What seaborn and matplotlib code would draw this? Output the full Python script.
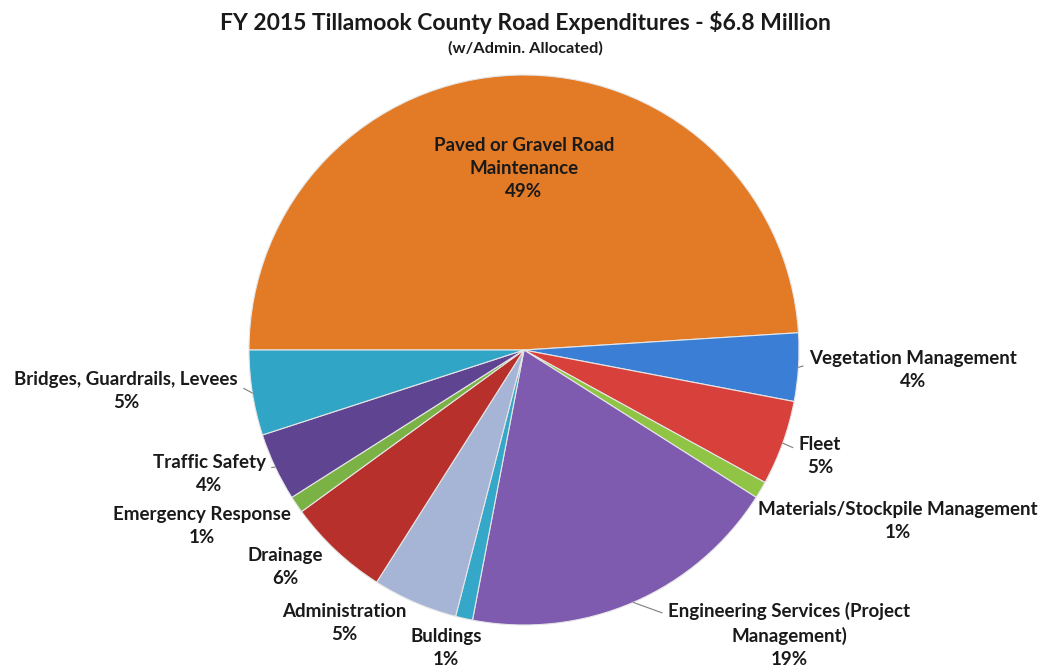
import numpy as np
import seaborn as sns
import matplotlib.pyplot as plt

# data
categorii = ['Paved or Gravel Road\nMaintenance', 'Vegetation Management', 'Fleet',
             'Materials/Stockpile Management', 'Engineering Services (Project\nManagement)',
             'Buldings', 'Administration', 'Drainage', 'Emergency Response',
             'Traffic Safety', 'Bridges, Guardrails, Levees']
procente = [49, 4, 5, 1, 19, 1, 5, 6, 1, 4, 5]
culori = ['#E27A26', '#3A7FD5', '#D8413B', '#8FC444', '#7F5BB0', '#35A7C9',
          '#A6B5D6', '#B8302B', '#7BB246', '#5E4491', '#30A5C6']

# pozitia etichetelor (raza cercului = 1)
poz_etichete = [(0.0, 0.66), (1.415, -0.073), (1.076, -0.385), (1.36, -0.622),
                (0.964, -1.036), (-0.284, -1.084), (-0.655, -0.993), (-0.869, -0.789),
                (-1.171, -0.64), (-1.145, -0.451), (-1.447, -0.149)]
linii = [None, (0, 0.64), (0, 0.64), None, (0, 0.8), None, None, None, None,
         (1, 0.64), (1, 0.64)]

sns.set_theme(style='white')
plt.rcParams['font.family'] = ['Lato', 'DejaVu Sans']

fig = plt.figure(figsize=(10.5, 6.68), dpi=100)
ax = fig.add_axes([0, 0, 1, 1])
paleta = sns.color_palette(culori)
wedges, _ = ax.pie(procente, colors=paleta, startangle=180, counterclock=False,
                   radius=1, wedgeprops=dict(edgecolor='#e6e6e6', linewidth=0.8))

for w, cat, p, pos, ln in zip(wedges, categorii, procente, poz_etichete, linii):
    txt = f'{cat}\n{p}%'
    if ln is None:
        ax.text(pos[0], pos[1], txt, ha='center', va='center', fontsize=13.5,
                fontweight='bold', color='#1a1a1a', linespacing=1.45)
    else:
        ang = np.deg2rad((w.theta1 + w.theta2) / 2)
        ax.annotate(txt, xy=(np.cos(ang), np.sin(ang)), xytext=pos,
                    ha='center', va='center', fontsize=13.5, fontweight='bold',
                    color='#1a1a1a', linespacing=1.45,
                    arrowprops=dict(arrowstyle='-', color='#7f7f7f', lw=0.8,
                                    shrinkA=2, shrinkB=0, relpos=ln))

ax.set_xlim(-524 / 275, (1050 - 524) / 275)
ax.set_ylim((350 - 668) / 275, 350 / 275)
ax.axis('off')

fig.text(0.5, 0.967, 'FY 2015 Tillamook County Road Expenditures - $6.8 Million',
         ha='center', va='center', fontsize=16.5, fontweight='bold', color='#1a1a1a')
fig.text(0.5, 0.928, '(w/Admin. Allocated)', ha='center', va='center',
         fontsize=11.8, fontweight='bold', color='#1a1a1a')

fig.savefig('out.png', dpi=100)
